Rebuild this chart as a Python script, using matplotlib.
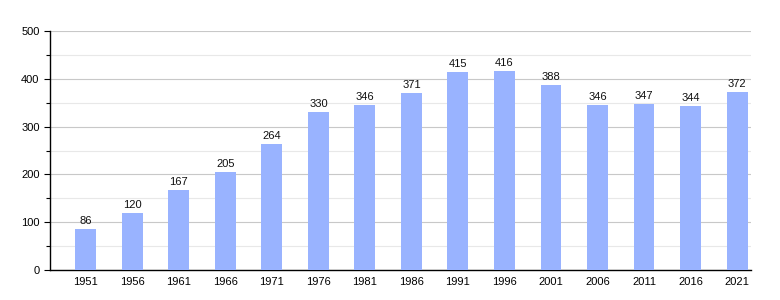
import matplotlib.pyplot as plt
from matplotlib.ticker import MultipleLocator

plt.rcParams['font.family'] = ['Liberation Sans', 'DejaVu Sans']

years = ['1951', '1956', '1961', '1966', '1971', '1976', '1981', '1986',
         '1991', '1996', '2001', '2006', '2011', '2016', '2021']
population = [86, 120, 167, 205, 264, 330, 346, 371, 415, 416, 388, 346, 347, 344, 372]

fig = plt.figure(figsize=(7.8, 3.0), dpi=100)
ax = fig.add_axes([50 / 780, 30 / 300, 701 / 780, 239 / 300])

x = range(len(years))
ax.bar(x, population, width=0.45, color='#99b3ff', zorder=3)
for xi, v in zip(x, population):
    ax.text(xi, v + 6, str(v), ha='center', va='bottom', fontsize=8, color='#111111', zorder=4)

ax.set_xticks(list(x))
ax.set_xticklabels(years, fontsize=8)
ax.set_xlim(-0.77, 14.3)
ax.set_ylim(0, 500)
ax.yaxis.set_major_locator(MultipleLocator(100))
ax.yaxis.set_minor_locator(MultipleLocator(50))
ax.tick_params(axis='y', labelsize=8, length=4, width=0.8)
ax.tick_params(axis='y', which='minor', length=3, width=0.8)
ax.tick_params(axis='x', length=0, pad=5)
ax.grid(axis='y', which='major', color='#c8c8c8', linewidth=0.8, zorder=0)
ax.grid(axis='y', which='minor', color='#e8e8e8', linewidth=0.8, zorder=0)

for side in ('top', 'right'):
    ax.spines[side].set_visible(False)
ax.spines['left'].set_linewidth(1.0)
ax.spines['bottom'].set_linewidth(1.0)

fig.savefig('out.png', dpi=100)
